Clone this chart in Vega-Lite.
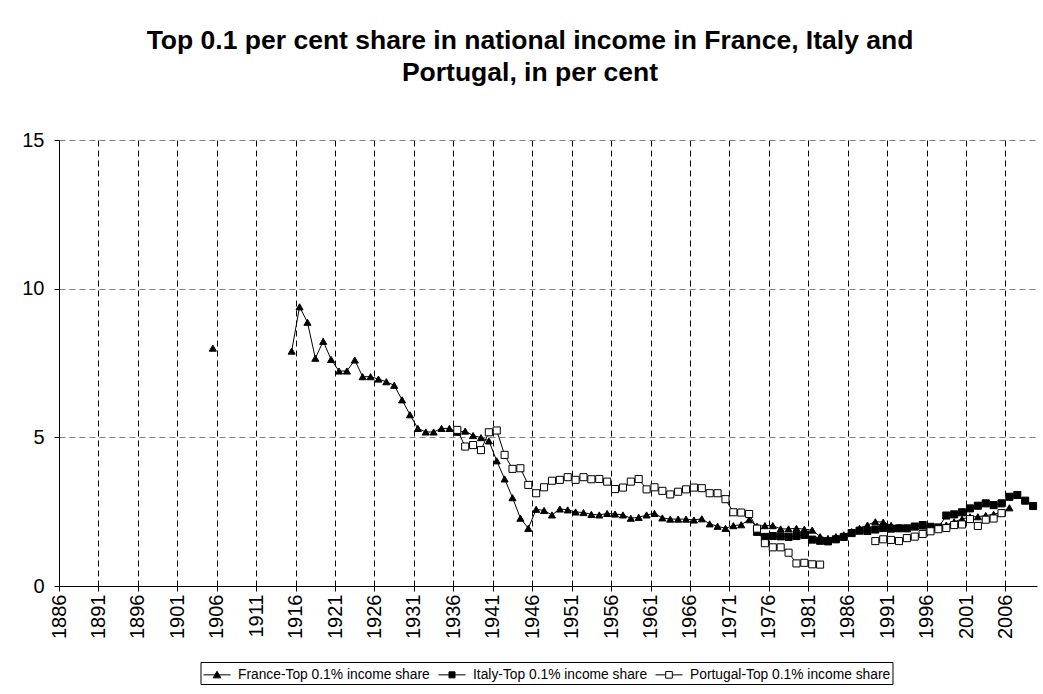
{
  "$schema": "https://vega.github.io/schema/vega-lite/v6.json",
  "width": 978,
  "height": 446,
  "autosize": {"type": "none"},
  "padding": {"left": 59, "top": 140, "right": 6, "bottom": 108},
  "background": "white",
  "config": {
    "view": {"stroke": null},
    "font": "Liberation Sans",
    "legend": {
      "orient": "none",
      "legendX": 141.5,
      "legendY": 522,
      "direction": "horizontal",
      "strokeColor": "black",
      "padding": 2,
      "labelFont": "Liberation Sans",
      "labelFontSize": 13.8,
      "labelColor": "black",
      "labelOffset": 10.5,
      "labelLimit": 0,
      "symbolSize": 400,
      "symbolOffset": 4,
      "symbolOpacity": 1,
      "columnPadding": 6,
      "symbolStrokeWidth": 1
    }
  },
  "title": {
    "text": ["Top 0.1 per cent share in national income in France, Italy and", "Portugal, in per cent"],
    "font": "Liberation Sans",
    "fontSize": 26.5,
    "fontWeight": "bold",
    "color": "black",
    "lineHeight": 32,
    "anchor": "middle",
    "offset": 44,
    "dx": -18
  },
  "data": {
    "values": [
      {"series": "France-Top 0.1% income share", "year": 1905, "share": 8.0},
      {"series": "France-Top 0.1% income share", "year": 1910, "share": null},
      {"series": "France-Top 0.1% income share", "year": 1915, "share": 7.90},
      {"series": "France-Top 0.1% income share", "year": 1916, "share": 9.39},
      {"series": "France-Top 0.1% income share", "year": 1917, "share": 8.87},
      {"series": "France-Top 0.1% income share", "year": 1918, "share": 7.66},
      {"series": "France-Top 0.1% income share", "year": 1919, "share": 8.23},
      {"series": "France-Top 0.1% income share", "year": 1920, "share": 7.62},
      {"series": "France-Top 0.1% income share", "year": 1921, "share": 7.23},
      {"series": "France-Top 0.1% income share", "year": 1922, "share": 7.23},
      {"series": "France-Top 0.1% income share", "year": 1923, "share": 7.60},
      {"series": "France-Top 0.1% income share", "year": 1924, "share": 7.04},
      {"series": "France-Top 0.1% income share", "year": 1925, "share": 7.04},
      {"series": "France-Top 0.1% income share", "year": 1926, "share": 6.96},
      {"series": "France-Top 0.1% income share", "year": 1927, "share": 6.87},
      {"series": "France-Top 0.1% income share", "year": 1928, "share": 6.75},
      {"series": "France-Top 0.1% income share", "year": 1929, "share": 6.26},
      {"series": "France-Top 0.1% income share", "year": 1930, "share": 5.76},
      {"series": "France-Top 0.1% income share", "year": 1931, "share": 5.30},
      {"series": "France-Top 0.1% income share", "year": 1932, "share": 5.18},
      {"series": "France-Top 0.1% income share", "year": 1933, "share": 5.18},
      {"series": "France-Top 0.1% income share", "year": 1934, "share": 5.30},
      {"series": "France-Top 0.1% income share", "year": 1935, "share": 5.30},
      {"series": "France-Top 0.1% income share", "year": 1936, "share": 5.17},
      {"series": "France-Top 0.1% income share", "year": 1937, "share": 5.21},
      {"series": "France-Top 0.1% income share", "year": 1938, "share": 5.06},
      {"series": "France-Top 0.1% income share", "year": 1939, "share": 4.99},
      {"series": "France-Top 0.1% income share", "year": 1940, "share": 4.88},
      {"series": "France-Top 0.1% income share", "year": 1941, "share": 4.21},
      {"series": "France-Top 0.1% income share", "year": 1942, "share": 3.60},
      {"series": "France-Top 0.1% income share", "year": 1943, "share": 2.97},
      {"series": "France-Top 0.1% income share", "year": 1944, "share": 2.28},
      {"series": "France-Top 0.1% income share", "year": 1945, "share": 1.94},
      {"series": "France-Top 0.1% income share", "year": 1946, "share": 2.58},
      {"series": "France-Top 0.1% income share", "year": 1947, "share": 2.54},
      {"series": "France-Top 0.1% income share", "year": 1948, "share": 2.39},
      {"series": "France-Top 0.1% income share", "year": 1949, "share": 2.59},
      {"series": "France-Top 0.1% income share", "year": 1950, "share": 2.56},
      {"series": "France-Top 0.1% income share", "year": 1951, "share": 2.49},
      {"series": "France-Top 0.1% income share", "year": 1952, "share": 2.47},
      {"series": "France-Top 0.1% income share", "year": 1953, "share": 2.41},
      {"series": "France-Top 0.1% income share", "year": 1954, "share": 2.39},
      {"series": "France-Top 0.1% income share", "year": 1955, "share": 2.44},
      {"series": "France-Top 0.1% income share", "year": 1956, "share": 2.42},
      {"series": "France-Top 0.1% income share", "year": 1957, "share": 2.39},
      {"series": "France-Top 0.1% income share", "year": 1958, "share": 2.28},
      {"series": "France-Top 0.1% income share", "year": 1959, "share": 2.31},
      {"series": "France-Top 0.1% income share", "year": 1960, "share": 2.39},
      {"series": "France-Top 0.1% income share", "year": 1961, "share": 2.44},
      {"series": "France-Top 0.1% income share", "year": 1962, "share": 2.29},
      {"series": "France-Top 0.1% income share", "year": 1963, "share": 2.25},
      {"series": "France-Top 0.1% income share", "year": 1964, "share": 2.25},
      {"series": "France-Top 0.1% income share", "year": 1965, "share": 2.25},
      {"series": "France-Top 0.1% income share", "year": 1966, "share": 2.22},
      {"series": "France-Top 0.1% income share", "year": 1967, "share": 2.26},
      {"series": "France-Top 0.1% income share", "year": 1968, "share": 2.09},
      {"series": "France-Top 0.1% income share", "year": 1969, "share": 2.01},
      {"series": "France-Top 0.1% income share", "year": 1970, "share": 1.94},
      {"series": "France-Top 0.1% income share", "year": 1971, "share": 2.03},
      {"series": "France-Top 0.1% income share", "year": 1972, "share": 2.06},
      {"series": "France-Top 0.1% income share", "year": 1973, "share": 2.23},
      {"series": "France-Top 0.1% income share", "year": 1974, "share": 2.01},
      {"series": "France-Top 0.1% income share", "year": 1975, "share": 2.03},
      {"series": "France-Top 0.1% income share", "year": 1976, "share": 2.03},
      {"series": "France-Top 0.1% income share", "year": 1977, "share": 1.92},
      {"series": "France-Top 0.1% income share", "year": 1978, "share": 1.92},
      {"series": "France-Top 0.1% income share", "year": 1979, "share": 1.94},
      {"series": "France-Top 0.1% income share", "year": 1980, "share": 1.91},
      {"series": "France-Top 0.1% income share", "year": 1981, "share": 1.88},
      {"series": "France-Top 0.1% income share", "year": 1982, "share": 1.66},
      {"series": "France-Top 0.1% income share", "year": 1983, "share": 1.60},
      {"series": "France-Top 0.1% income share", "year": 1984, "share": 1.66},
      {"series": "France-Top 0.1% income share", "year": 1985, "share": 1.72},
      {"series": "France-Top 0.1% income share", "year": 1986, "share": 1.83},
      {"series": "France-Top 0.1% income share", "year": 1987, "share": 1.94},
      {"series": "France-Top 0.1% income share", "year": 1988, "share": 2.05},
      {"series": "France-Top 0.1% income share", "year": 1989, "share": 2.16},
      {"series": "France-Top 0.1% income share", "year": 1990, "share": 2.15},
      {"series": "France-Top 0.1% income share", "year": 1991, "share": 2.04},
      {"series": "France-Top 0.1% income share", "year": 1992, "share": 1.97},
      {"series": "France-Top 0.1% income share", "year": 1993, "share": 1.94},
      {"series": "France-Top 0.1% income share", "year": 1994, "share": 2.00},
      {"series": "France-Top 0.1% income share", "year": 1995, "share": 2.02},
      {"series": "France-Top 0.1% income share", "year": 1996, "share": 2.00},
      {"series": "France-Top 0.1% income share", "year": 1997, "share": 1.97},
      {"series": "France-Top 0.1% income share", "year": 1998, "share": 2.05},
      {"series": "France-Top 0.1% income share", "year": 1999, "share": 2.16},
      {"series": "France-Top 0.1% income share", "year": 2000, "share": 2.25},
      {"series": "France-Top 0.1% income share", "year": 2001, "share": 2.33},
      {"series": "France-Top 0.1% income share", "year": 2002, "share": 2.33},
      {"series": "France-Top 0.1% income share", "year": 2003, "share": 2.37},
      {"series": "France-Top 0.1% income share", "year": 2004, "share": 2.41},
      {"series": "France-Top 0.1% income share", "year": 2005, "share": 2.48},
      {"series": "France-Top 0.1% income share", "year": 2006, "share": 2.63},
      {"series": "Italy-Top 0.1% income share", "year": 1974, "share": 1.82},
      {"series": "Italy-Top 0.1% income share", "year": 1975, "share": 1.65},
      {"series": "Italy-Top 0.1% income share", "year": 1976, "share": 1.68},
      {"series": "Italy-Top 0.1% income share", "year": 1977, "share": 1.67},
      {"series": "Italy-Top 0.1% income share", "year": 1978, "share": 1.65},
      {"series": "Italy-Top 0.1% income share", "year": 1979, "share": 1.68},
      {"series": "Italy-Top 0.1% income share", "year": 1980, "share": 1.72},
      {"series": "Italy-Top 0.1% income share", "year": 1981, "share": 1.56},
      {"series": "Italy-Top 0.1% income share", "year": 1982, "share": 1.52},
      {"series": "Italy-Top 0.1% income share", "year": 1983, "share": 1.50},
      {"series": "Italy-Top 0.1% income share", "year": 1984, "share": 1.57},
      {"series": "Italy-Top 0.1% income share", "year": 1985, "share": 1.65},
      {"series": "Italy-Top 0.1% income share", "year": 1986, "share": 1.78},
      {"series": "Italy-Top 0.1% income share", "year": 1987, "share": 1.86},
      {"series": "Italy-Top 0.1% income share", "year": 1988, "share": 1.85},
      {"series": "Italy-Top 0.1% income share", "year": 1989, "share": 1.90},
      {"series": "Italy-Top 0.1% income share", "year": 1990, "share": 1.95},
      {"series": "Italy-Top 0.1% income share", "year": 1991, "share": 1.93},
      {"series": "Italy-Top 0.1% income share", "year": 1992, "share": 1.94},
      {"series": "Italy-Top 0.1% income share", "year": 1993, "share": 1.94},
      {"series": "Italy-Top 0.1% income share", "year": 1994, "share": 2.00},
      {"series": "Italy-Top 0.1% income share", "year": 1995, "share": 2.05},
      {"series": "Italy-Top 0.1% income share", "year": 1996, "share": 1.99},
      {"series": "Italy-Top 0.1% income share", "year": 1997, "share": 1.97},
      {"series": "Italy-Top 0.1% income share", "year": 1998, "share": 2.37},
      {"series": "Italy-Top 0.1% income share", "year": 1999, "share": 2.41},
      {"series": "Italy-Top 0.1% income share", "year": 2000, "share": 2.48},
      {"series": "Italy-Top 0.1% income share", "year": 2001, "share": 2.61},
      {"series": "Italy-Top 0.1% income share", "year": 2002, "share": 2.70},
      {"series": "Italy-Top 0.1% income share", "year": 2003, "share": 2.78},
      {"series": "Italy-Top 0.1% income share", "year": 2004, "share": 2.72},
      {"series": "Italy-Top 0.1% income share", "year": 2005, "share": 2.78},
      {"series": "Italy-Top 0.1% income share", "year": 2006, "share": 3.00},
      {"series": "Italy-Top 0.1% income share", "year": 2007, "share": 3.06},
      {"series": "Italy-Top 0.1% income share", "year": 2008, "share": 2.87},
      {"series": "Italy-Top 0.1% income share", "year": 2009, "share": 2.69},
      {"series": "Portugal-Top 0.1% income share", "year": 1936, "share": 5.25},
      {"series": "Portugal-Top 0.1% income share", "year": 1937, "share": 4.69},
      {"series": "Portugal-Top 0.1% income share", "year": 1938, "share": 4.74},
      {"series": "Portugal-Top 0.1% income share", "year": 1939, "share": 4.57},
      {"series": "Portugal-Top 0.1% income share", "year": 1940, "share": 5.17},
      {"series": "Portugal-Top 0.1% income share", "year": 1941, "share": 5.23},
      {"series": "Portugal-Top 0.1% income share", "year": 1942, "share": 4.41},
      {"series": "Portugal-Top 0.1% income share", "year": 1943, "share": 3.94},
      {"series": "Portugal-Top 0.1% income share", "year": 1944, "share": 3.96},
      {"series": "Portugal-Top 0.1% income share", "year": 1945, "share": 3.40},
      {"series": "Portugal-Top 0.1% income share", "year": 1946, "share": 3.12},
      {"series": "Portugal-Top 0.1% income share", "year": 1947, "share": 3.32},
      {"series": "Portugal-Top 0.1% income share", "year": 1948, "share": 3.54},
      {"series": "Portugal-Top 0.1% income share", "year": 1949, "share": 3.57},
      {"series": "Portugal-Top 0.1% income share", "year": 1950, "share": 3.66},
      {"series": "Portugal-Top 0.1% income share", "year": 1951, "share": 3.57},
      {"series": "Portugal-Top 0.1% income share", "year": 1952, "share": 3.66},
      {"series": "Portugal-Top 0.1% income share", "year": 1953, "share": 3.59},
      {"series": "Portugal-Top 0.1% income share", "year": 1954, "share": 3.60},
      {"series": "Portugal-Top 0.1% income share", "year": 1955, "share": 3.51},
      {"series": "Portugal-Top 0.1% income share", "year": 1956, "share": 3.26},
      {"series": "Portugal-Top 0.1% income share", "year": 1957, "share": 3.31},
      {"series": "Portugal-Top 0.1% income share", "year": 1958, "share": 3.51},
      {"series": "Portugal-Top 0.1% income share", "year": 1959, "share": 3.60},
      {"series": "Portugal-Top 0.1% income share", "year": 1960, "share": 3.25},
      {"series": "Portugal-Top 0.1% income share", "year": 1961, "share": 3.32},
      {"series": "Portugal-Top 0.1% income share", "year": 1962, "share": 3.20},
      {"series": "Portugal-Top 0.1% income share", "year": 1963, "share": 3.08},
      {"series": "Portugal-Top 0.1% income share", "year": 1964, "share": 3.17},
      {"series": "Portugal-Top 0.1% income share", "year": 1965, "share": 3.25},
      {"series": "Portugal-Top 0.1% income share", "year": 1966, "share": 3.31},
      {"series": "Portugal-Top 0.1% income share", "year": 1967, "share": 3.29},
      {"series": "Portugal-Top 0.1% income share", "year": 1968, "share": 3.12},
      {"series": "Portugal-Top 0.1% income share", "year": 1969, "share": 3.12},
      {"series": "Portugal-Top 0.1% income share", "year": 1970, "share": 2.92},
      {"series": "Portugal-Top 0.1% income share", "year": 1971, "share": 2.48},
      {"series": "Portugal-Top 0.1% income share", "year": 1972, "share": 2.47},
      {"series": "Portugal-Top 0.1% income share", "year": 1973, "share": 2.42},
      {"series": "Portugal-Top 0.1% income share", "year": 1974, "share": 1.93},
      {"series": "Portugal-Top 0.1% income share", "year": 1975, "share": 1.44},
      {"series": "Portugal-Top 0.1% income share", "year": 1976, "share": 1.30},
      {"series": "Portugal-Top 0.1% income share", "year": 1977, "share": 1.30},
      {"series": "Portugal-Top 0.1% income share", "year": 1978, "share": 1.12},
      {"series": "Portugal-Top 0.1% income share", "year": 1979, "share": 0.76},
      {"series": "Portugal-Top 0.1% income share", "year": 1980, "share": 0.78},
      {"series": "Portugal-Top 0.1% income share", "year": 1981, "share": 0.73},
      {"series": "Portugal-Top 0.1% income share", "year": 1982, "share": 0.72},
      {"series": "Portugal-Top 0.1% income share", "year": 1985, "share": null},
      {"series": "Portugal-Top 0.1% income share", "year": 1989, "share": 1.51},
      {"series": "Portugal-Top 0.1% income share", "year": 1990, "share": 1.57},
      {"series": "Portugal-Top 0.1% income share", "year": 1991, "share": 1.55},
      {"series": "Portugal-Top 0.1% income share", "year": 1992, "share": 1.51},
      {"series": "Portugal-Top 0.1% income share", "year": 1993, "share": 1.61},
      {"series": "Portugal-Top 0.1% income share", "year": 1994, "share": 1.66},
      {"series": "Portugal-Top 0.1% income share", "year": 1995, "share": 1.75},
      {"series": "Portugal-Top 0.1% income share", "year": 1996, "share": 1.84},
      {"series": "Portugal-Top 0.1% income share", "year": 1997, "share": 1.91},
      {"series": "Portugal-Top 0.1% income share", "year": 1998, "share": 1.95},
      {"series": "Portugal-Top 0.1% income share", "year": 1999, "share": 2.05},
      {"series": "Portugal-Top 0.1% income share", "year": 2000, "share": 2.07},
      {"series": "Portugal-Top 0.1% income share", "year": 2001, "share": 2.25},
      {"series": "Portugal-Top 0.1% income share", "year": 2002, "share": 2.02},
      {"series": "Portugal-Top 0.1% income share", "year": 2003, "share": 2.23},
      {"series": "Portugal-Top 0.1% income share", "year": 2004, "share": 2.27},
      {"series": "Portugal-Top 0.1% income share", "year": 2005, "share": 2.45}
    ]
  },
  "encoding": {
    "x": {
      "field": "year",
      "type": "quantitative",
      "scale": {"domain": [1885.5, 2009.5], "nice": false, "zero": false},
      "axis": {
        "title": null,
        "values": [1885.5, 1890.5, 1895.5, 1900.5, 1905.5, 1910.5, 1915.5, 1920.5, 1925.5, 1930.5, 1935.5, 1940.5, 1945.5, 1950.5, 1955.5, 1960.5, 1965.5, 1970.5, 1975.5, 1980.5, 1985.5, 1990.5, 1995.5, 2000.5, 2005.5],
        "labelExpr": "format(datum.value + 0.5, 'd')",
        "labelAngle": 270,
        "labelFont": "Liberation Sans",
        "labelFontSize": 20,
        "labelColor": "black",
        "labelPadding": 3,
        "labelFlush": false,
        "labelOverlap": false,
        "grid": true,
        "gridColor": "black",
        "gridDash": [6, 4],
        "gridWidth": 1,
        "domainColor": "black",
        "tickColor": "black",
        "tickSize": 5
      }
    },
    "y": {
      "field": "share",
      "type": "quantitative",
      "scale": {"domain": [0, 15], "nice": false},
      "axis": {
        "title": null,
        "values": [0, 5, 10, 15],
        "labelFont": "Liberation Sans",
        "labelFontSize": 20,
        "labelColor": "black",
        "labelPadding": 10,
        "grid": true,
        "gridColor": "#808080",
        "gridDash": [6, 4],
        "gridWidth": 1,
        "domainColor": "black",
        "tickColor": "black",
        "tickSize": 5
      }
    }
  },
  "resolve": {"scale": {"shape": "independent", "fill": "independent", "stroke": "independent"}},
  "layer": [
    {
      "mark": {"type": "line", "color": "black", "strokeWidth": 1, "invalid": "break-paths-filter-domains"},
      "encoding": {"detail": {"field": "series"}}
    },
    {
      "mark": {"type": "point", "stroke": "black", "strokeWidth": 1, "opacity": 1, "size": 50},
      "encoding": {
        "shape": {
          "field": "series",
          "type": "nominal",
          "scale": {"range": ["triangle-up", "square", "square"]},
          "legend": null
        },
        "fill": {
          "field": "series",
          "type": "nominal",
          "scale": {"range": ["black", "black", "white"]},
          "legend": null
        }
      }
    },
    {
      "mark": {"type": "point", "size": 0, "strokeWidth": 1},
      "encoding": {
        "shape": {
          "field": "series",
          "type": "nominal",
          "scale": {"range": ["M-1.35,0H1.35M0,-0.36L0.38,0.3L-0.38,0.3Z", "M-1.35,0H1.35M-0.3,-0.3H0.3V0.3H-0.3Z", "M-1.35,0H-0.33M0.33,0H1.35M-0.33,-0.33H0.33V0.33H-0.33Z"]},
          "legend": {"title": null}
        },
        "fill": {
          "field": "series",
          "type": "nominal",
          "scale": {"range": ["black", "black", "white"]},
          "legend": {"title": null}
        },
        "stroke": {
          "field": "series",
          "type": "nominal",
          "scale": {"range": ["black", "black", "black"]},
          "legend": {"title": null}
        }
      }
    }
  ]
}
